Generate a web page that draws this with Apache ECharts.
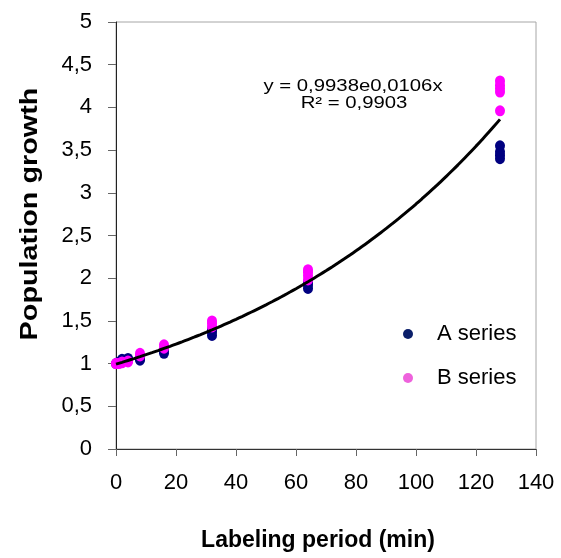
<!DOCTYPE html>
<html>
<head>
<meta charset="utf-8">
<style>
  html, body { margin: 0; padding: 0; background: #ffffff; }
  #chart { width: 561px; height: 558px; }
</style>
<script src="https://cdn.jsdelivr.net/npm/echarts@6/dist/echarts.min.js"></script>
</head>
<body>
<div id="chart"></div>
<script>
// Labeling period (min) and population growth for the two series
const aX = [0, 1, 2, 2, 4, 4, 8, 8, 16, 16, 32, 32, 32, 64, 64, 64, 128, 128, 128, 128];
const aY = [1.00, 1.02, 1.03, 1.05, 1.04, 1.06, 1.04, 1.06, 1.12, 1.15, 1.33, 1.37, 1.40, 1.88, 1.92, 1.95, 3.40, 3.44, 3.48, 3.55];

const bX = [0, 0, 1, 2, 2, 4, 4, 8, 8, 16, 16, 32, 32, 32, 64, 64, 64, 64, 128, 128, 128, 128, 128];
const bY = [1.00, 1.00, 1.00, 1.01, 1.02, 1.02, 1.03, 1.09, 1.12, 1.18, 1.22, 1.43, 1.47, 1.50, 1.98, 2.03, 2.07, 2.10, 3.96, 4.18, 4.22, 4.26, 4.31];

// Exponential fit y = FIT_A * e^(FIT_B * x), as printed on the chart
const FIT_A = 0.9938;
const FIT_B = 0.0106;
const R2 = 0.9903;
const fitRange = [0, 128];

const xTicks = [0, 20, 40, 60, 80, 100, 120, 140];
const yTicks = [0, 0.5, 1, 1.5, 2, 2.5, 3, 3.5, 4, 4.5, 5];

const seriesNames = ['A series', 'B series'];

const fmtComma = (v, digits) => v.toFixed(digits).replace('.', ',');

const pairs = (xs, ys) => xs.map((x, i) => [x, ys[i]]);

const fitLine = [];
for (let x = fitRange[0]; x <= fitRange[1]; x += 2) {
  fitLine.push([x, FIT_A * Math.exp(FIT_B * x)]);
}

const FONT = '"Liberation Sans", Arial, sans-serif';
const chart = echarts.init(document.getElementById('chart'), null, { renderer: 'canvas' });

chart.setOption({
  animation: false,
  backgroundColor: '#ffffff',
  grid: {
    left: 116, top: 22, right: 25, bottom: 109,
    show: true, borderColor: '#a6a6a6', borderWidth: 1
  },
  xAxis: {
    type: 'value',
    min: xTicks[0], max: xTicks[xTicks.length - 1], interval: xTicks[1] - xTicks[0],
    axisLine: { show: true, onZero: false, lineStyle: { color: '#333333', width: 1 } },
    axisTick: { show: true, inside: false, length: 7, lineStyle: { color: '#666666' } },
    axisLabel: { fontFamily: FONT, fontSize: 22, color: '#000000', margin: 23 },
    splitLine: { show: false }
  },
  yAxis: {
    type: 'value',
    min: yTicks[0], max: yTicks[yTicks.length - 1], interval: yTicks[1] - yTicks[0],
    axisLine: { show: true, onZero: false, lineStyle: { color: '#222222', width: 1 } },
    axisTick: { show: true, inside: false, length: 8, lineStyle: { color: '#666666' } },
    axisLabel: {
      fontFamily: FONT, fontSize: 22, color: '#000000', margin: 24,
      formatter: v => (Number.isInteger(v) ? String(v) : fmtComma(v, 1))
    },
    splitLine: { show: false }
  },
  legend: {
    orient: 'vertical',
    left: 398, top: 318,
    itemWidth: 10, itemHeight: 11, itemGap: 22,
    icon: 'circle',
    textStyle: { fontFamily: FONT, fontSize: 22, color: '#000000', padding: [0, 0, 0, 19] },
    data: [
      { name: seriesNames[0], itemStyle: { color: '#0b1f6a', opacity: 1 } },
      { name: seriesNames[1], itemStyle: { color: '#ee62dc', opacity: 1 } }
    ]
  },
  series: [
    {
      name: seriesNames[0], type: 'scatter',
      data: pairs(aX, aY),
      symbol: 'circle', symbolSize: [10, 11],
      itemStyle: { color: '#000080', opacity: 1 }, z: 3
    },
    {
      name: seriesNames[1], type: 'scatter',
      data: pairs(bX, bY),
      symbol: 'circle', symbolSize: [10, 11],
      itemStyle: { color: '#ff00ff', opacity: 1 }, z: 4
    },
    {
      name: 'fit', type: 'line',
      data: fitLine, smooth: true, showSymbol: false, symbol: 'none',
      lineStyle: { color: '#000000', width: 3 }, z: 5, silent: true
    }
  ],
  graphic: [
    {
      type: 'text', x: 353, y: 87, scaleX: 1.27,
      style: {
        text: 'y = ' + fmtComma(FIT_A, 4) + 'e' + fmtComma(FIT_B, 4) + 'x',
        font: '16px ' + FONT, fill: '#000000', align: 'center', verticalAlign: 'middle'
      }
    },
    {
      type: 'text', x: 354, y: 104, scaleX: 1.27,
      style: {
        text: 'R² = ' + fmtComma(R2, 4),
        font: '16px ' + FONT, fill: '#000000', align: 'center', verticalAlign: 'middle'
      }
    },
    {
      type: 'text', x: 318, y: 541,
      style: {
        text: 'Labeling period (min)',
        font: 'bold 23px ' + FONT, fill: '#000000', align: 'center', verticalAlign: 'middle'
      }
    },
    {
      type: 'text', x: 30, y: 214, rotation: Math.PI / 2, scaleX: 1.2,
      style: {
        text: 'Population growth',
        font: 'bold 24px ' + FONT, fill: '#000000', align: 'center', verticalAlign: 'middle'
      }
    }
  ]
});
</script>
</body>
</html>
